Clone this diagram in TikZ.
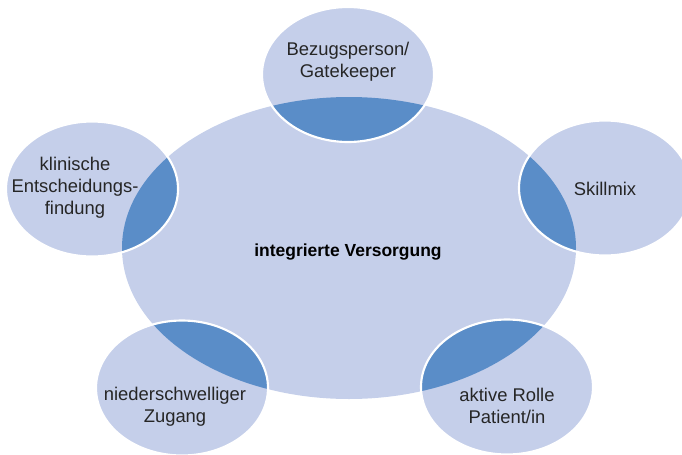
\documentclass[tikz,border=0pt]{standalone}
\usepackage{fontspec}
\setmainfont{Liberation Sans}
\usetikzlibrary{positioning}

\definecolor{vennlight}{HTML}{C5CFEA}
\definecolor{venndark}{HTML}{5A8DC8}
\definecolor{lbltext}{HTML}{262626}

\begin{document}
\begin{tikzpicture}[
  x=0.75pt, y=-0.75pt,
  font=\fontsize{13.8}{16.5}\selectfont,
  lbl/.style={align=center, text=lbltext, inner sep=1pt},
  hublbl/.style={align=center, text=black, font=\fontsize{13.1}{16.5}\selectfont\bfseries},
  rim/.style={draw=white, line width=1.6pt}
]
\useasboundingbox (0,0) rectangle (682,454);

% ---------- Hub ----------
\def\hubpath{(349,248) ellipse [x radius=227, y radius=151]}
\fill[vennlight] \hubpath;

% ---------- Satellites ----------
\foreach \cx/\cy in {348/74.5, 605/188, 92/189, 182/388, 507/387}{
  \fill[vennlight] (\cx,\cy) ellipse [x radius=86, y radius=67.5];
  \begin{scope}
    \clip \hubpath;
    \fill[venndark] (\cx,\cy) ellipse [x radius=86, y radius=67.5];
  \end{scope}
  \draw[rim] (\cx,\cy) ellipse [x radius=86, y radius=67.5];
}

% ---------- Labels ----------
\node[hublbl] (hub) at (348,252) {integrierte Versorgung};
\node[lbl] (bezug) at (348,62) {Bezugsperson/\\Gatekeeper};
\node[lbl] (skill) at (605,189) {Skillmix};
\node[lbl] (klin) at (75,188) {klinische\\Entscheidungs-\\findung};
\node[lbl] (nieder) at (175,407) {niederschwelliger\\Zugang};
\node[lbl] (aktiv) at (507,406) {aktive Rolle\\Patient/in};
\end{tikzpicture}
\end{document}
